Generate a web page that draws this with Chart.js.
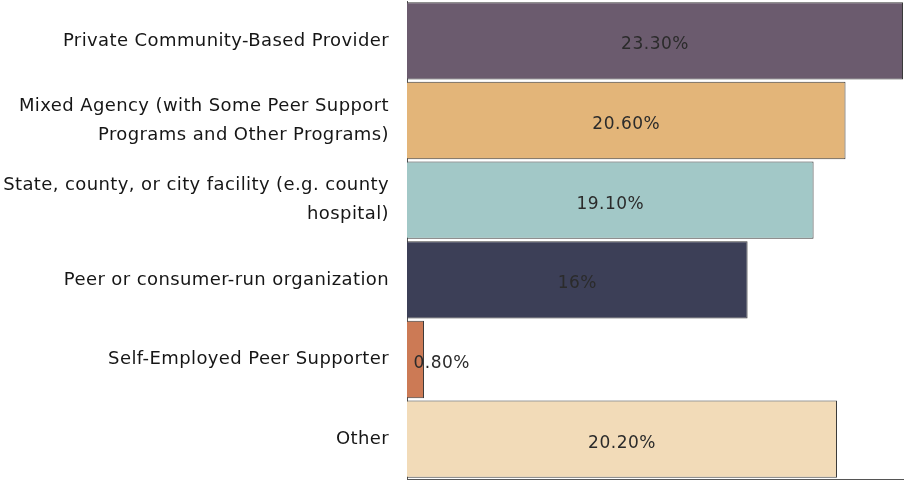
<!DOCTYPE html>
<html>
<head>
<meta charset="utf-8">
<script src="https://cdn.jsdelivr.net/npm/chart.js@4/dist/chart.umd.min.js"></script>
<style>
  html, body { margin: 0; padding: 0; background: #fff; }
  #wrap { width: 904px; height: 480px; }
</style>
</head>
<body>
<div id="wrap"><canvas id="orgChart"></canvas></div>
<script>
// categories and values
const categories = [
    "Private Community-Based Provider",
    ["Mixed Agency (with Some Peer Support", "Programs and Other Programs)"],
    ["State, county, or city facility (e.g. county", "hospital)"],
    "Peer or consumer-run organization",
    "Self-Employed Peer Supporter",
    "Other"
];
const shares = [23.3, 20.6, 19.1, 16, 0.8, 20.2];
const valueLabels = ["23.30%", "20.60%", "19.10%", "16%", "0.80%", "20.20%"];
const barColors = ["#6b5b6e", "#e3b579", "#a2c8c7", "#3c3f57", "#cc7a55", "#f2dbb8"];

// wider letter spacing, the source font is a broad one
const spacing = {
    id: "spacing",
    beforeDraw(chart) { chart.ctx.letterSpacing = "0.4px"; }
};

// draws the value text inside each bar
const valueText = {
    id: "valueText",
    afterDatasetsDraw(chart) {
        const c = chart.ctx;
        const meta = chart.getDatasetMeta(0);
        c.save();
        c.font = "17px 'DejaVu Sans'";
        c.letterSpacing = "0.5px";
        c.fillStyle = "#2b2b2b";
        c.textBaseline = "middle";
        meta.data.forEach((bar, i) => {
            const txt = valueLabels[i];
            const w = c.measureText(txt).width;
            const mid = (bar.base + bar.x) / 2;
            if (w > bar.x - bar.base) {
                c.textAlign = "left";
                c.fillText(txt, mid - 2, bar.y + 4);
            } else {
                c.textAlign = "center";
                c.fillText(txt, mid, bar.y + 4);
            }
        });
        c.restore();
    }
};

const ctx = document.getElementById("orgChart").getContext("2d");
const orgChart = new Chart(ctx, {
    type: "bar",
    data: {
        labels: categories,
        datasets: [{
            data: shares,
            backgroundColor: barColors,
            borderColor: "#3a3a3a",
            borderWidth: 1,
            barPercentage: 0.97,
            categoryPercentage: 1
        }]
    },
    options: {
        indexAxis: "y",
        responsive: true,
        maintainAspectRatio: false,
        animation: false,
        layout: { padding: { top: 1, right: 1, bottom: 1, left: 0 } },
        plugins: {
            legend: { display: false },
            tooltip: { enabled: false }
        },
        scales: {
            x: {
                min: 0,
                max: 23.3,
                ticks: { display: false },
                grid: { display: false, drawTicks: false },
                border: { display: true, color: "#555", width: 1 }
            },
            y: {
                afterFit(scale) {
                    scale.width = 407;
                    scale.paddingTop = 0;
                    scale.paddingBottom = 0;
                },
                ticks: {
                    color: "#161616",
                    padding: 18,
                    font: { family: "'DejaVu Sans'", size: 18, lineHeight: 1.6 }
                },
                grid: { display: false, drawTicks: false },
                border: { display: true, color: "#555", width: 1 }
            }
        }
    },
    plugins: [spacing, valueText]
});
</script>
</body>
</html>
